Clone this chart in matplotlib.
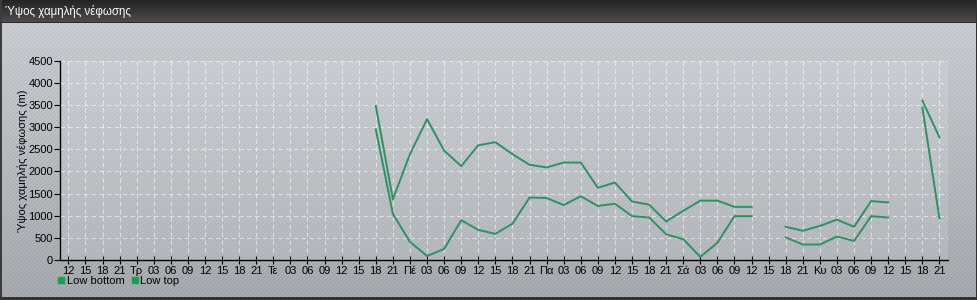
import numpy as np
import matplotlib
matplotlib.use("Agg")
import matplotlib.pyplot as plt
from matplotlib.lines import Line2D

plt.rcParams['font.family'] = ['Liberation Sans', 'DejaVu Sans']

# ---------------- data ----------------
tick_labels = ['12', '15', '18', '21',
               'Τρ', '03', '06', '09', '12', '15', '18', '21',
               'Τε', '03', '06', '09', '12', '15', '18', '21',
               'Πέ', '03', '06', '09', '12', '15', '18', '21',
               'Πα', '03', '06', '09', '12', '15', '18', '21',
               'Σά', '03', '06', '09', '12', '15', '18', '21',
               'Κυ', '03', '06', '09', '12', '15', '18', '21']

N = None
low_top = [N] * 18 + [3480, 1370, 2390, 3180, 2470, 2120, 2590, 2660, 2390, 2150,
                      2090, 2200, 2200, 1630, 1750, 1320, 1250, 870, 1110, 1340,
                      1340, 1200, 1200, N, 750, 660, 770, 910, 750, 1330,
                      1300, N, 3600, 2770]
low_bottom = [N] * 18 + [2950, 1040, 410, 90, 250, 900, 680, 590, 820, 1410,
                         1400, 1240, 1440, 1220, 1270, 990, 960, 580, 470, 70,
                         390, 990, 990, N, 510, 350, 350, 530, 430, 990,
                         960, N, 3440, 940]

title = 'Ύψος χαμηλής νέφωσης'
ylabel = 'Ύψος χαμηλής νέφωσης (m)'
series_names = ['Low bottom', 'Low top']
line_color = '#2e9163'
marker_color = '#17a050'

# ---------------- figure ----------------
W, H = 978, 300
fig = plt.figure(figsize=(W / 100, H / 100), dpi=100)

# background with gradient and diagonal stripes
bg = fig.add_axes([0, 0, 1, 1])
bg.set_axis_off()
yy, xx = np.mgrid[0:H, 0:W]
t = yy / H
base = np.stack([208 - 38 * t, 212 - 38 * t, 216 - 38 * t], axis=-1)
stripes = ((xx + yy) % 4 == 0) | ((xx + yy) % 4 == 1)
img = base.copy()
img[stripes] -= 12
# title bar
tb = 22
tt = (yy[:tb] / tb)[..., None]
img[:tb] = (36 + 40 * tt) * np.ones(3)
img[tb:tb + 1] = 40
# outer frame
img[:, :2] = 60
img[:, -2:] = 50
img[-3:, :] = 50
bg.imshow(np.clip(img, 0, 255).astype(np.uint8), extent=[0, W, H, 0], aspect='auto',
          interpolation='nearest')
bg.set_xlim(0, W)
bg.set_ylim(H, 0)
fig.text(5 / W, 1 - 11 / H, title, color='white', fontsize=8.3, va='center', ha='left')

# main axes
x0, x1 = 60, 948
y_top, y_bot = 60.7, 260
ax = fig.add_axes([x0 / W, 1 - y_bot / H, (x1 - x0) / W, (y_bot - y_top) / H])
ax.set_facecolor((1, 1, 1, 0.12))

x = np.arange(len(tick_labels))
top = np.array([np.nan if v is None else v for v in low_top], dtype=float)
bot = np.array([np.nan if v is None else v for v in low_bottom], dtype=float)
ax.plot(x, bot, color=line_color, lw=1.4)
ax.plot(x, top, color=line_color, lw=1.4)

ax.set_xlim(-0.49, len(tick_labels) - 1 + 0.5)
ax.set_ylim(0, 4500)
ax.set_yticks(np.arange(0, 4501, 500))
ax.set_xticks(x)
ax.set_xticklabels(tick_labels)
ax.tick_params(axis='x', direction='inout', length=6, width=0.8, labelsize=8, pad=1, colors='black')
ax.tick_params(axis='y', direction='out', length=4, width=0.8, labelsize=8, pad=1)
for s in ['top', 'right']:
    ax.spines[s].set_visible(False)
for s in ['left', 'bottom']:
    ax.spines[s].set_linewidth(1.0)
ax.grid(True, color='white', linestyle=(0, (4, 3)), linewidth=0.8, alpha=0.55)
ax.set_axisbelow(True)
ax.set_ylabel(ylabel, fontsize=8)
ax.yaxis.set_label_coords((28 - x0) / (x1 - x0), 0.5)

handles = [Line2D([], [], marker='s', color=marker_color, linestyle='none', markersize=5)
           for _ in series_names]
fig.legend(handles, series_names, loc='center left', bbox_to_anchor=(58 / W, 1 - 281 / H),
           ncol=2, frameon=False, fontsize=8, handlelength=0.6, handletextpad=0.2,
           columnspacing=0.6, borderpad=0, borderaxespad=0)

fig.savefig('out.png', dpi=100)
